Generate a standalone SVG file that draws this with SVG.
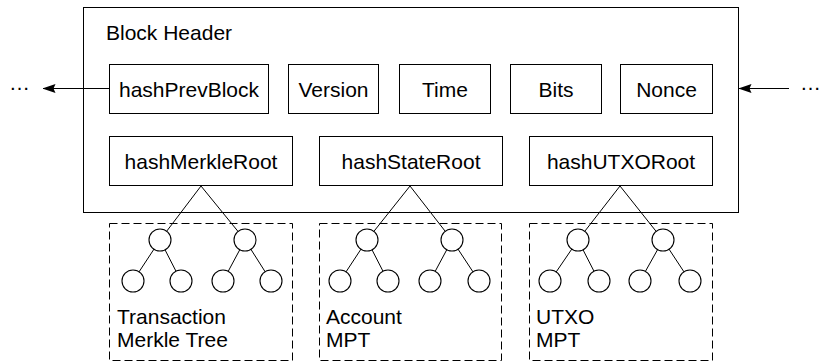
<svg xmlns="http://www.w3.org/2000/svg" width="822" height="362" viewBox="0 0 822 362">
<style>
.box{fill:#fff;stroke:#000;stroke-width:1}
.dash{fill:none;stroke:#000;stroke-width:1;stroke-dasharray:8 4}
.ln{stroke:#000;stroke-width:1;fill:none}
.nd{fill:#fff;stroke:#000;stroke-width:1.1}
text{font-family:"Liberation Sans",Arial,Helvetica,sans-serif;font-size:21px;fill:#000}
.c{text-anchor:middle}
</style>
<defs>
<marker id="arr" markerUnits="userSpaceOnUse" viewBox="0 0 13 9" markerWidth="13" markerHeight="9" refX="12.5" refY="4.5" orient="auto">
<path d="M0,0 L13,4.5 L0,9 L2,4.5 Z" fill="#000"/>
</marker>
</defs>
<rect width="822" height="362" fill="#fff"/>
<g id="block-header">
<rect class="box" x="83.5" y="7.5" width="655" height="205"/>
<text x="106" y="39.5">Block Header</text>
</g>
<g id="hashPrevBlock"><rect class="box" x="109.5" y="64.5" width="159" height="49"/><text class="c" x="189" y="96.5">hashPrevBlock</text></g>
<g id="version"><rect class="box" x="288.5" y="64.5" width="90" height="49"/><text class="c" x="333.5" y="96.5">Version</text></g>
<g id="time"><rect class="box" x="399.5" y="64.5" width="91" height="49"/><text class="c" x="445" y="96.5">Time</text></g>
<g id="bits"><rect class="box" x="510.5" y="64.5" width="91" height="49"/><text class="c" x="556" y="96.5">Bits</text></g>
<g id="nonce"><rect class="box" x="620.5" y="64.5" width="92" height="49"/><text class="c" x="666.5" y="96.5">Nonce</text></g>
<g id="hashMerkleRoot"><rect class="box" x="109.5" y="136.5" width="183" height="49"/><text class="c" x="201" y="168.5">hashMerkleRoot</text></g>
<g id="hashStateRoot"><rect class="box" x="319.5" y="136.5" width="183" height="49"/><text class="c" x="411" y="168.5">hashStateRoot</text></g>
<g id="hashUTXORoot"><rect class="box" x="529.5" y="136.5" width="183" height="49"/><text class="c" x="621" y="168.5">hashUTXORoot</text></g>
<g id="prev-ellipsis"><text x="9" y="90">…</text></g>
<g id="next-ellipsis"><text x="800" y="90">…</text></g>
<g id="tx-tree">
<rect class="dash" x="109.5" y="223.5" width="183" height="137"/>
<text x="117" y="323.5">Transaction</text>
<text x="117" y="346.5">Merkle Tree</text>
</g>
<g id="account-tree">
<rect class="dash" x="319.5" y="223.5" width="182" height="137"/>
<text x="326" y="323.5">Account</text>
<text x="326" y="346.5">MPT</text>
</g>
<g id="utxo-tree">
<rect class="dash" x="529.5" y="223.5" width="183" height="137"/>
<text x="536" y="323.5">UTXO</text>
<text x="536" y="346.5">MPT</text>
</g>
<g id="connectors">
<line class="ln" x1="109.5" y1="88.5" x2="43" y2="88.5" marker-end="url(#arr)"/>
<line class="ln" x1="789" y1="88.5" x2="739" y2="88.5" marker-end="url(#arr)"/>
<path class="ln" d="M201,186 L160,240 M201,186 L245,240 M160,240 L133,281 M160,240 L181,281 M245,240 L223,281 M245,240 L271,281"/>
<path class="ln" d="M410,186 L367,240 M410,186 L452,240 M367,240 L340,281 M367,240 L388,281 M452,240 L430,281 M452,240 L479,281"/>
<path class="ln" d="M620,186 L578,240 M620,186 L663,240 M578,240 L550,281 M578,240 L599,281 M663,240 L640,281 M663,240 L690,281"/>
</g>
<g id="tree-nodes">
<circle class="nd" cx="160" cy="240" r="11"/><circle class="nd" cx="245" cy="240" r="11"/>
<circle class="nd" cx="133" cy="281" r="11"/><circle class="nd" cx="181" cy="281" r="11"/><circle class="nd" cx="223" cy="281" r="11"/><circle class="nd" cx="271" cy="281" r="11"/>
<circle class="nd" cx="367" cy="240" r="11"/><circle class="nd" cx="452" cy="240" r="11"/>
<circle class="nd" cx="340" cy="281" r="11"/><circle class="nd" cx="388" cy="281" r="11"/><circle class="nd" cx="430" cy="281" r="11"/><circle class="nd" cx="479" cy="281" r="11"/>
<circle class="nd" cx="578" cy="240" r="11"/><circle class="nd" cx="663" cy="240" r="11"/>
<circle class="nd" cx="550" cy="281" r="11"/><circle class="nd" cx="599" cy="281" r="11"/><circle class="nd" cx="640" cy="281" r="11"/><circle class="nd" cx="690" cy="281" r="11"/>
</g>
</svg>
